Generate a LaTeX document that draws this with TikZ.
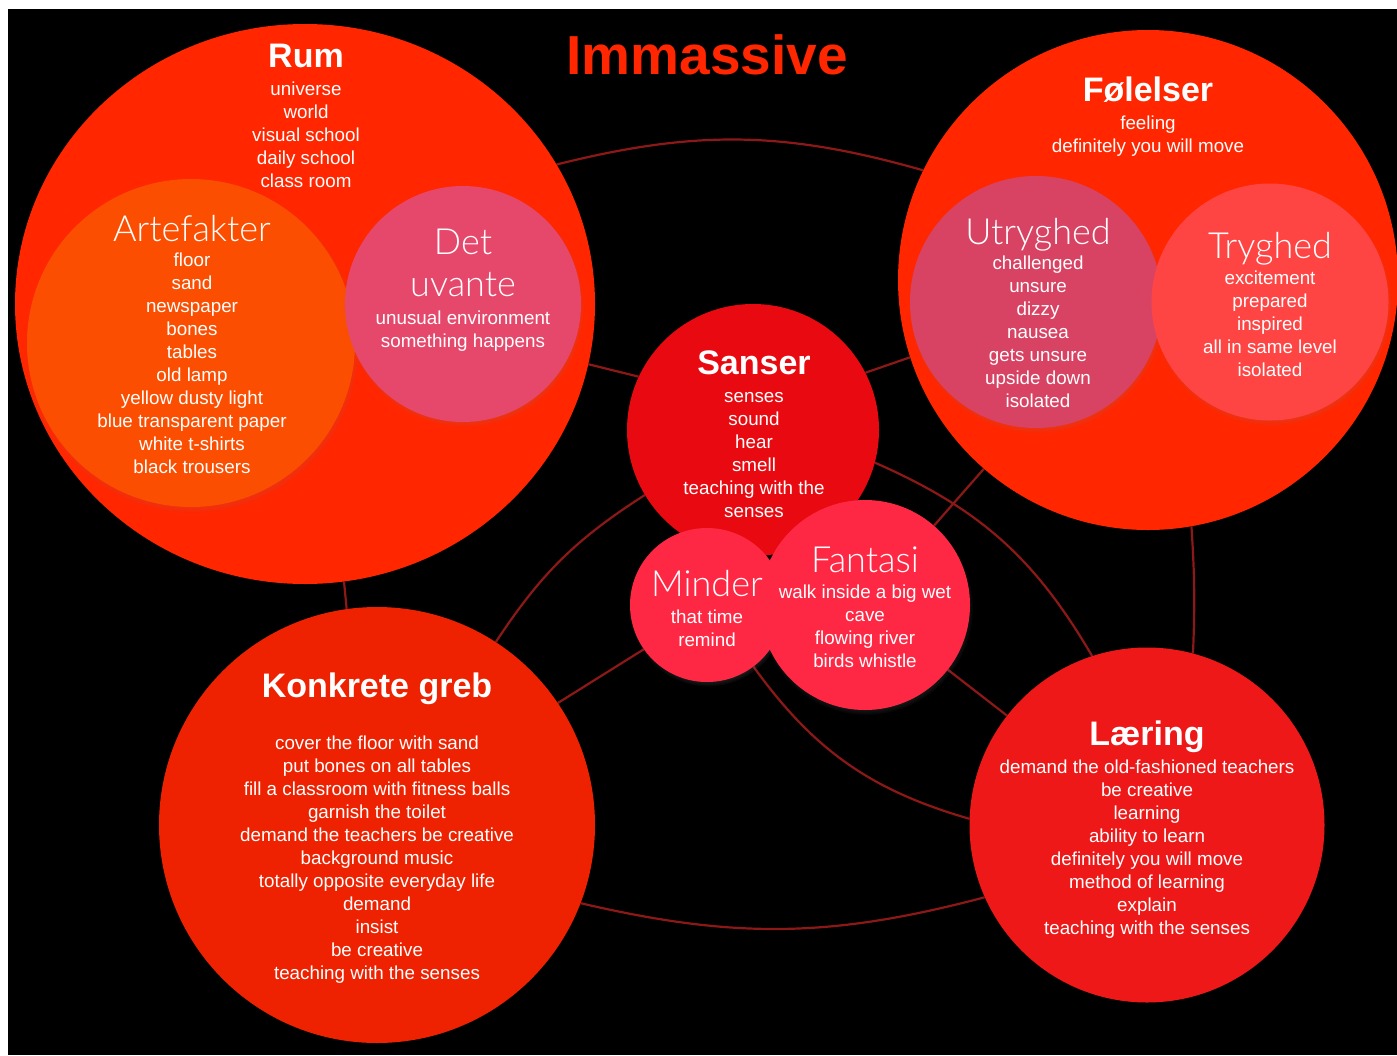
\documentclass[tikz,border=0pt]{standalone}
\usepackage{fontspec}
\setmainfont{Liberation Sans}
\newfontfamily\thinfont{Lato Light}
\usetikzlibrary{shapes.geometric,shadows,fadings,backgrounds}
\definecolor{bigred}{RGB}{255,38,0}
\definecolor{artorange}{RGB}{252,78,0}
\definecolor{uvpink}{RGB}{230,72,108}
\definecolor{utrpink}{RGB}{216,67,100}
\definecolor{trylight}{RGB}{255,68,68}
\definecolor{sanred}{RGB}{232,10,16}
\definecolor{fantpink}{RGB}{255,40,68}
\definecolor{konkred}{RGB}{238,34,0}
\definecolor{learred}{RGB}{238,24,24}
\definecolor{linkred}{RGB}{140,24,24}
\newcommand\hbold{\bfseries\fontsize{34}{40}\selectfont}
\newcommand\hthin{\thinfont\fontsize{36}{42}\selectfont}

\begin{document}
\begin{tikzpicture}[x=1pt,y=1pt,
  bubble/.style={circle, inner sep=0pt},
  inner/.style={bubble, circular drop shadow={shadow scale=1.02, shadow xshift=1pt, shadow yshift=-3pt, opacity=0.45}},
  txt/.style={text=white, align=center, inner sep=0pt, anchor=north, font=\fontsize{18.8}{23}\selectfont},
  link/.style={draw=linkred, line width=2.2pt}]
\useasboundingbox (0,0) rectangle (1397,-1055);
\node[txt, text=bigred, font=\bfseries\fontsize{55}{60}\selectfont] (title) at (707,-34) {Immassive};

\node[ellipse, inner sep=0pt, fill=bigred, minimum width=580pt, minimum height=560pt] (rum) at (305,-304) {};
\node[txt] (rumtxt) at (306,-44) {\hbold Rum\\[5pt] universe\\ world\\ visual school\\ daily school\\ class room};
\node[inner, fill=artorange, minimum size=328pt] (art) at (191,-343) {};
\node[txt] (arttxt) at (192,-215) {\hthin Artefakter\\[2pt] floor\\ sand\\ newspaper\\ bones\\ tables\\ old lamp\\ yellow dusty light\\ blue transparent paper\\ white t-shirts\\ black trousers};
\node[inner, fill=uvpink, minimum size=236pt] (uvante) at (463,-304) {};
\node[txt] (uvantetxt) at (463,-229) {\hthin Det\\[16pt] \hthin uvante\\[5pt] unusual environment\\ something happens};

\node[bubble, fill=bigred, minimum size=500pt] (feel) at (1148,-280) {};
\node[txt] (feeltxt) at (1148,-77) {\hbold Følelser\\[5pt] feeling\\ definitely you will move};
\node[inner, fill=utrpink, minimum size=252pt] (utry) at (1036,-302) {};
\node[txt] (utrytxt) at (1038,-218) {\hthin Utryghed\\[2pt] challenged\\ unsure\\ dizzy\\ nausea\\ gets unsure\\ upside down\\ isolated};
\node[inner, fill=trylight, minimum size=237pt] (try) at (1270,-302) {};
\node[txt] (trytxt) at (1270,-232) {\hthin Tryghed\\[3pt] excitement\\ prepared\\ inspired\\ all in same level\\ isolated};

\node[bubble, fill=sanred, minimum size=252pt] (sanser) at (753,-430) {};
\node[txt] (sansertxt) at (754,-351) {\hbold Sanser\\[5pt] senses\\ sound\\ hear\\ smell\\ teaching with the\\ senses};
\node[inner, fill=fantpink, minimum size=154pt] (minder) at (707,-605) {};
\node[txt] (mindertxt) at (707,-570) {\hthin Minder\\[4pt] that time\\ remind};
\node[inner, fill=fantpink, minimum size=210pt] (fant) at (865,-605) {};
\node[txt] (fanttxt) at (865,-547) {\hthin Fantasi\\[3pt] walk inside a big wet\\ cave\\ flowing river\\ birds whistle};

\node[bubble, fill=konkred, minimum size=436pt] (konk) at (377,-825) {};
\node[txt] (konktxt) at (377,-673) {\hbold Konkrete greb\\[29pt] cover the floor with sand\\ put bones on all tables\\ fill a classroom with fitness balls\\ garnish the toilet\\ demand the teachers be creative\\ background music\\ totally opposite everyday life\\ demand\\ insist\\ be creative\\ teaching with the senses};
\node[bubble, fill=learred, minimum size=355pt] (lear) at (1147,-825) {};
\node[txt] (leartxt) at (1147,-721) {\hbold Læring\\[5pt] demand the old-fashioned teachers\\ be creative\\ learning\\ ability to learn\\ definitely you will move\\ method of learning\\ explain\\ teaching with the senses};

\begin{pgfonlayer}{background}
\fill[white] (0,0) rectangle (1397,-1055);
\fill[black] (8,-9) rectangle (1397,-1055);
\draw[link] (rum.29) to[bend left=15] (feel.154);
\draw[link] (rum.-12) -- (sanser.155);
\draw[link] (sanser.27) -- (feel.-162);
\draw[link] (rum.-82) -- (konk.98);
\draw[link] (konk.57) to[bend left=12] (sanser.-149);
\draw[link] (konk.34) -- (minder.-145);
\draw[link] (sanser.-15) to[bend left=18] (lear.108);
\draw[link] (fant.49) -- (feel.-131);
\draw[link] (fant.-38) -- (lear.142);
\draw[link] (feel.-80) to[bend left=3] (lear.75);
\draw[link] (minder.-53) to[bend right=19] (lear.178);
\draw[link] (konk.-21) to[bend right=14] (lear.-156);
\end{pgfonlayer}
\end{tikzpicture}
\end{document}
